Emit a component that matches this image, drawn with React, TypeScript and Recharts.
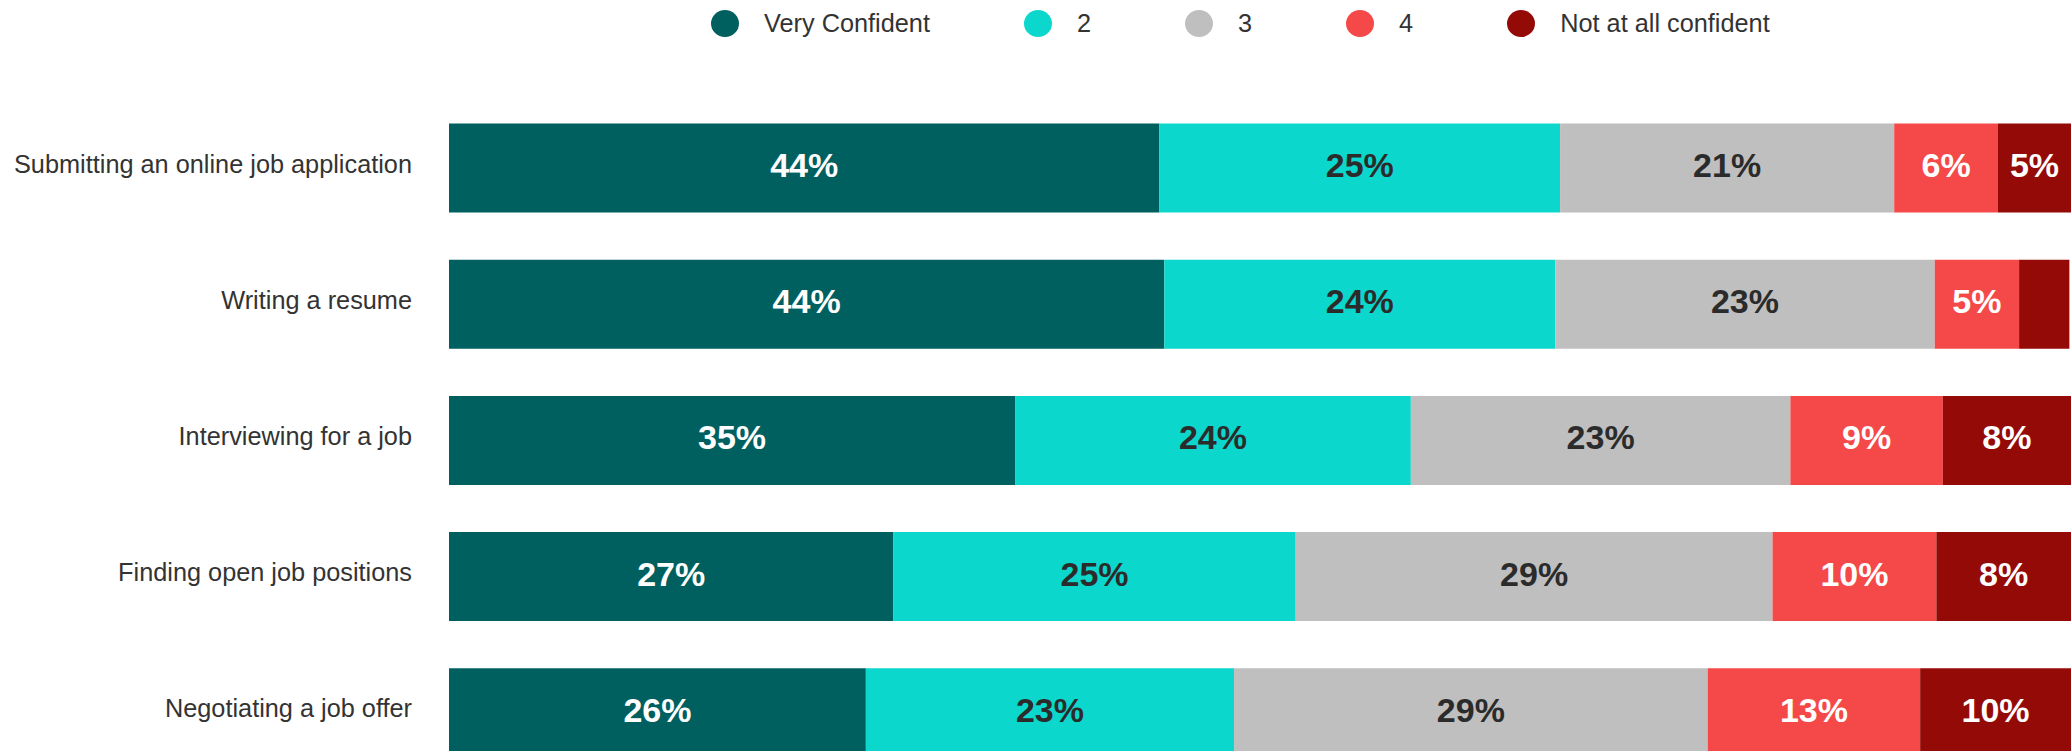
import React from "react";
import { BarChart, Bar, XAxis, YAxis, Legend, LabelList } from "recharts";

const TASKS = [
  "Submitting an online job application",
  "Writing a resume",
  "Interviewing for a job",
  "Finding open job positions",
  "Negotiating a job offer",
];

const VERY_CONFIDENT = [43.8, 44.1, 34.9, 27.4, 25.7];
const LEVEL_2 = [24.7, 24.1, 24.4, 24.8, 22.7];
const LEVEL_3 = [20.6, 23.4, 23.4, 29.4, 29.2];
const LEVEL_4 = [6.4, 5.2, 9.4, 10.1, 13.1];
const NOT_CONFIDENT = [4.5, 3.1, 8.1, 8.3, 9.5];

const SERIES_NAMES = ["Very Confident", "2", "3", "4", "Not at all confident"];

const FONT = "'Liberation Sans', Arial, sans-serif";
const TEXT = "#333333";

const SERIES = [
  { key: "v1", name: SERIES_NAMES[0], values: VERY_CONFIDENT, fill: "#005f5f", label: "#ffffff" },
  { key: "v2", name: SERIES_NAMES[1], values: LEVEL_2, fill: "#0bd7cc", label: "#2b2b2b" },
  { key: "v3", name: SERIES_NAMES[2], values: LEVEL_3, fill: "#bfbfbf", label: "#2b2b2b" },
  { key: "v4", name: SERIES_NAMES[3], values: LEVEL_4, fill: "#f54949", label: "#ffffff" },
  { key: "v5", name: SERIES_NAMES[4], values: NOT_CONFIDENT, fill: "#940a07", label: "#ffffff" },
];

const data = TASKS.map((task, i) => {
  const row: Record<string, string | number> = { task };
  SERIES.forEach((s) => {
    row[s.key] = s.values[i];
  });
  return row;
});

function CategoryTick(props: any) {
  const { x, y, payload } = props;
  return (
    <text
      x={x}
      y={y - 4}
      textAnchor="end"
      dominantBaseline="central"
      fill={TEXT}
      style={{ fontFamily: FONT, fontSize: 25.3 }}
    >
      {payload.value}
    </text>
  );
}

function makeLabel(color: string) {
  return function ValueLabel(props: any) {
    const { x, y, width, height, value } = props;
    if (value == null || value < 4) return null;
    return (
      <text
        x={x + width / 2}
        y={y + height / 2 - 3}
        textAnchor="middle"
        dominantBaseline="central"
        fill={color}
        style={{ fontFamily: FONT, fontSize: 34, fontWeight: 700 }}
      >
        {Math.round(value)}%
      </text>
    );
  };
}

function LegendContent() {
  return (
    <div style={{ display: "flex", alignItems: "center", paddingLeft: 711, height: 46 }}>
      {SERIES.map((s) => (
        <div key={s.key} style={{ display: "flex", alignItems: "center", marginRight: 94 }}>
          <span
            style={{
              display: "inline-block",
              width: 28,
              height: 27,
              borderRadius: "50%",
              background: s.fill,
              marginRight: 25,
            }}
          />
          <span style={{ fontFamily: FONT, fontSize: 25.3, color: TEXT, lineHeight: "28px" }}>{s.name}</span>
        </div>
      ))}
    </div>
  );
}

export default function App() {
  return (
    <div
      style={{
        position: "absolute",
        top: 0,
        left: 0,
        width: 2071,
        height: 751,
        overflow: "hidden",
        background: "#ffffff",
      }}
    >
      <BarChart
        width={2071}
        height={800}
        data={data}
        layout="vertical"
        margin={{ top: 99.5, right: 0, bottom: 19.5, left: 0 }}
      >
        <XAxis type="number" domain={[0, 100]} allowDataOverflow hide />
        <YAxis
          type="category"
          dataKey="task"
          width={449}
          axisLine={false}
          tickLine={false}
          tickSize={0}
          tickMargin={37}
          tick={<CategoryTick />}
          interval={0}
        />
        <Legend
          layout="horizontal"
          verticalAlign="middle"
          content={<LegendContent />}
          wrapperStyle={{ top: 0, left: 0, width: 2071 }}
        />
        {SERIES.map((s) => (
          <Bar
            key={s.key}
            dataKey={s.key}
            name={s.name}
            stackId="a"
            fill={s.fill}
            barSize={89}
            isAnimationActive={false}
          >
            <LabelList dataKey={s.key} content={makeLabel(s.label)} />
          </Bar>
        ))}
      </BarChart>
    </div>
  );
}
